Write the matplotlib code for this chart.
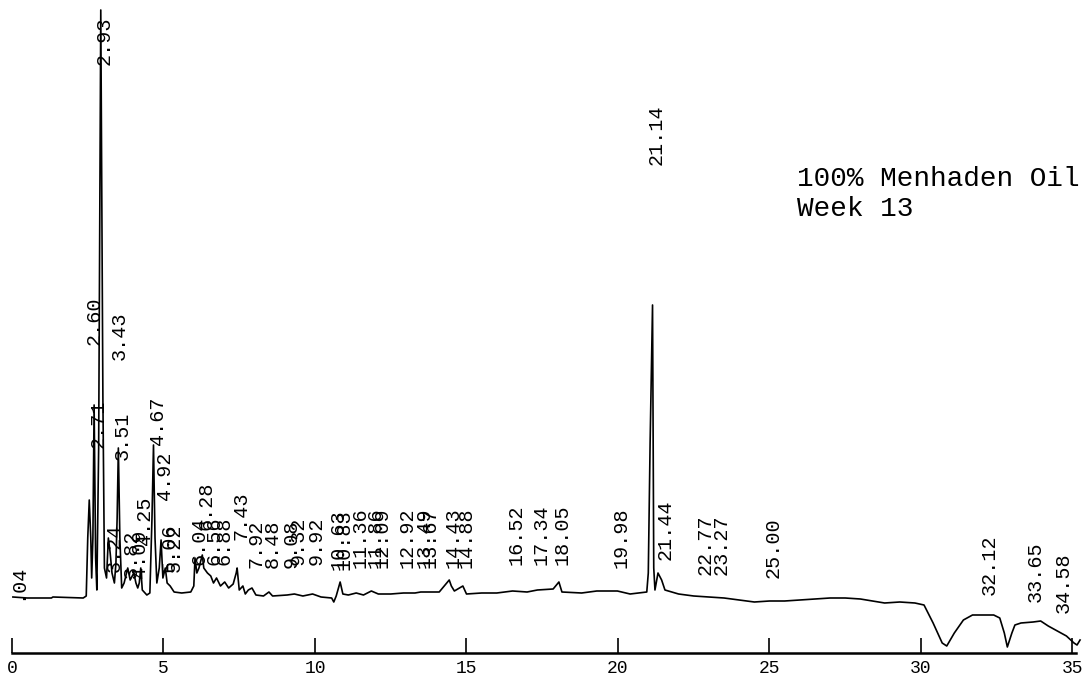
import matplotlib
matplotlib.use("Agg")
import matplotlib.pyplot as plt

# detector trace: retention time (min) and signal (arbitrary units)
time_min = [0.03, 0.5, 1.3, 1.35, 2.35, 2.45, 2.50, 2.55, 2.60, 2.63, 2.67, 2.71, 2.76, 2.80,
            2.86, 2.93, 3.00, 3.05, 3.12, 3.18, 3.24, 3.30, 3.38, 3.43, 3.47, 3.51, 3.56, 3.62,
            3.70, 3.82, 3.90, 4.02, 4.09, 4.15, 4.20, 4.25, 4.30, 4.45, 4.55, 4.62, 4.67, 4.72,
            4.78, 4.86, 4.92, 4.98, 5.06, 5.12, 5.22, 5.35, 5.6, 5.9, 6.0, 6.04, 6.10, 6.17,
            6.28, 6.33, 6.45, 6.56, 6.65, 6.75, 6.88, 7.02, 7.15, 7.30, 7.40, 7.43, 7.50, 7.62,
            7.70, 7.80, 7.92, 8.05, 8.30, 8.48, 8.6, 9.08, 9.32, 9.6, 9.92, 10.2, 10.55, 10.62,
            10.70, 10.83, 10.92, 11.1, 11.36, 11.6, 11.86, 12.09, 12.5, 12.92, 13.3, 13.49,
            13.67, 14.1, 14.43, 14.5, 14.6, 14.88, 15.0, 15.5, 16.0, 16.52, 17.0, 17.34, 17.86,
            18.05, 18.15, 18.8, 19.3, 19.98, 20.4, 20.95, 21.0, 21.06, 21.14, 21.18, 21.22,
            21.32, 21.44, 21.55, 22.0, 22.5, 23.0, 23.5, 24.0, 24.5, 25.0, 25.5, 26.0, 26.5,
            27.0, 27.5, 28.0, 28.4, 28.8, 29.3, 29.8, 30.1, 30.4, 30.7, 30.85, 31.1, 31.4, 31.7,
            32.0, 32.4, 32.6, 32.75, 32.85, 33.0, 33.1, 33.3, 33.7, 33.95, 34.2, 34.5, 34.8,
            35.05, 35.15, 35.25]
signal = [1, 0, 0, 1, 0, 2, 60, 98, 60, 20, 60, 193, 40, 8,
          150, 588, 200, 30, 20, 60, 45, 25, 15, 35, 80, 150, 60, 10,
          15, 30, 18, 25, 15, 10, 15, 30, 8, 3, 5, 80, 153, 60,
          15, 30, 58, 20, 30, 15, 12, 6, 5, 6, 12, 40, 25, 30,
          43, 30, 25, 22, 15, 20, 12, 16, 10, 14, 25, 30, 8, 12,
          4, 8, 10, 3, 2, 6, 2, 3, 4, 2, 4, 1, 0, -4,
          2, 16, 4, 3, 5, 3, 7, 4, 4, 5, 5, 6,
          6, 6, 18, 12, 7, 12, 4, 5, 5, 7, 6, 8, 9,
          16, 6, 5, 7, 7, 4, 6, 25, 155, 293, 30, 8,
          25, 18, 8, 4, 2, 1, 0, -2, -4, -3, -3, -2, -1,
          0, 0, -1, -3, -5, -4, -5, -7, -25, -45, -48, -35, -22, -17,
          -17, -17, -20, -35, -49, -35, -27, -25, -24, -23, -28, -33, -38,
          -45, -47, -42]

# retention-time labels printed by the integrator, and how high each one sits
peak_labels = [".04", "2.60", "2.71", "2.93", "3.24", "3.43", "3.51", "3.82", "4.09", "4.25",
               "4.67", "4.92", "5.06", "5.22", "6.04", "6.28", "6.56", "6.88", "7.43",
               "7.92", "8.48", "9.08", "9.32", "9.92", "10.63", "10.83", "11.36",
               "11.86", "12.09", "12.92", "13.49", "13.67", "14.43", "14.88", "16.52",
               "17.34", "18.05", "19.98", "21.14", "21.44", "22.77", "23.27", "25.00",
               "32.12", "33.65", "34.58"]
label_bottom = [-2, 253, 150, 533, 26, 238, 138, 20, 20, 53,
                153, 98, 26, 26, 33, 68, 33, 33, 58,
                30, 30, 30, 33, 33, 28, 28, 30,
                30, 30, 30, 30, 30, 30, 30, 33,
                33, 33, 30, 433, 38, 23, 23, 20,
                3, -4, -15]

ticks = [0, 5, 10, 15, 20, 25, 30, 35]

fig = plt.figure(figsize=(10.86, 6.91), dpi=100)
ax = fig.add_axes([0, 0, 1, 1])
ax.plot(time_min, signal, color="black", lw=1.2)

mono = "Liberation Mono"
for lab, yb in zip(peak_labels, label_bottom):
    ax.text(float(lab) + 0.12, yb, lab, rotation=90, ha="center", va="bottom",
            family=mono, fontsize=14.5)

ax.text(25.9, 432, "100% Menhaden Oil", family=mono, fontsize=20, va="top", ha="left")
ax.text(25.9, 402, "Week 13", family=mono, fontsize=20, va="top", ha="left")

ax.set_xlim(-0.396, 35.446)
ax.set_ylim(-93, 598)
for side in ["left", "right", "top"]:
    ax.spines[side].set_visible(False)
ax.spines["bottom"].set_position(("data", -55))
ax.spines["bottom"].set_bounds(0, 35.1)
ax.spines["bottom"].set_linewidth(1.8)
ax.set_yticks([])
ax.set_xticks(ticks)
ax.set_xticklabels([str(t) for t in ticks], family=mono, fontsize=13)
ax.tick_params(axis="x", direction="in", length=11, width=1.2, pad=5)

fig.savefig("out.png", dpi=100)
